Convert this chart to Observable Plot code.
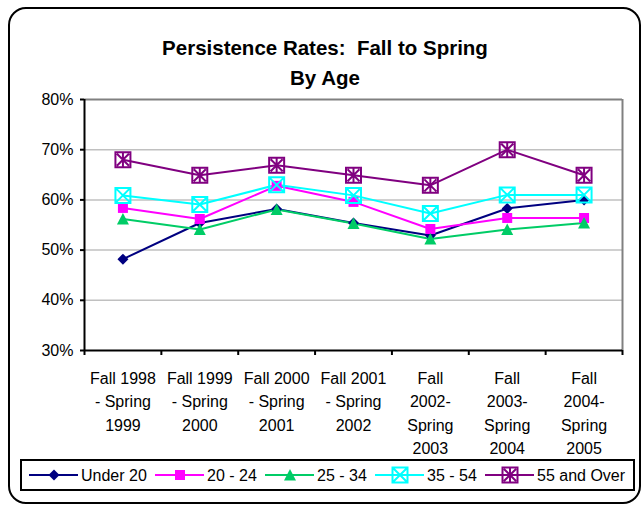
<!DOCTYPE html>
<html>
<head>
<meta charset="utf-8">
<script src="https://cdn.jsdelivr.net/npm/d3@7"></script>
<script src="https://cdn.jsdelivr.net/npm/@observablehq/plot@0.6"></script>
<style>
  html, body { margin: 0; padding: 0; background: #fff; }
  body { font-family: "Liberation Sans", Arial, sans-serif; }
  #wrap { position: relative; width: 644px; height: 507px; overflow: hidden; }
  #frame { position: absolute; left: 8px; top: 7px; width: 633px; height: 497px; border: 2px solid #000; border-radius: 18px; box-sizing: border-box; }
  #title { position: absolute; left: 3px; top: 33px; width: 644px; text-align: center; font-weight: bold; font-size: 20.5px; line-height: 30px; color: #000; }
  #chart { position: absolute; left: 0; top: 0; }
  #legend { position: absolute; left: 20px; top: 459px; width: 615px; height: 32px; border: 2px solid #000; box-sizing: border-box; background: #fff; }
</style>
</head>
<body>
<div id="wrap">
  <div id="frame"></div>
  <div id="chart"></div>
  <div id="title">Persistence Rates:&nbsp; Fall to Spring<br>By Age</div>
  <div id="legend"></div>
</div>
<script>
// ---- data ----
const categories = [
  "Fall 1998\n- Spring\n1999",
  "Fall 1999\n- Spring\n2000",
  "Fall 2000\n- Spring\n2001",
  "Fall 2001\n- Spring\n2002",
  "Fall\n2002-\nSpring\n2003",
  "Fall\n2003-\nSpring\n2004",
  "Fall\n2004-\nSpring\n2005"
];
const under20   = [48.2, 55.4, 58.2, 55.4, 52.9, 58.3, 60.0];
const age20_24  = [58.4, 56.2, 62.8, 59.6, 54.2, 56.4, 56.4];
const age25_34  = [56.2, 54.1, 58.1, 55.3, 52.2, 54.1, 55.4];
const age35_54  = [60.9, 59.1, 63.0, 60.9, 57.3, 61.0, 61.0];
const age55over = [68.0, 64.9, 66.9, 64.9, 62.9, 70.0, 64.9];
const seriesNames = ["Under 20", "20 - 24", "25 - 34", "35 - 54", "55 and Over"];
const yTicks = [30, 40, 50, 60, 70, 80];

// ---- marker shapes ----
const symDiamond = {draw(c){ const h = 5.5; c.moveTo(0,-h); c.lineTo(h,0); c.lineTo(0,h); c.lineTo(-h,0); c.closePath(); }};
const symSquare  = {draw(c){ const h = 5; c.rect(-h,-h,2*h,2*h); }};
const symTri     = {draw(c){ c.moveTo(0,-6); c.lineTo(6,5.5); c.lineTo(-6,5.5); c.closePath(); }};
const symBoxX    = {draw(c){ const h = 7.5; c.rect(-h,-h,2*h,2*h); c.moveTo(-h,-h); c.lineTo(h,h); c.moveTo(h,-h); c.lineTo(-h,h); }};
const symBoxStar = {draw(c){ const h = 7.5; c.rect(-h,-h,2*h,2*h); c.moveTo(-h+1.5,-h+1.5); c.lineTo(h-1.5,h-1.5); c.moveTo(h-1.5,-h+1.5); c.lineTo(-h+1.5,h-1.5); c.moveTo(0,-h); c.lineTo(0,h); }};

const series = [
  {name: seriesNames[0], values: under20,   color: "#000080", sym: symDiamond, filled: true},
  {name: seriesNames[1], values: age20_24,  color: "#FF00FF", sym: symSquare,  filled: true},
  {name: seriesNames[2], values: age25_34,  color: "#00CC66", sym: symTri,     filled: true},
  {name: seriesNames[3], values: age35_54,  color: "#00FFFF", sym: symBoxX,    filled: false},
  {name: seriesNames[4], values: age55over, color: "#800080", sym: symBoxStar, filled: false}
];

const xi = (d, i) => i + 0.5;

const marks = [
  Plot.gridY([40, 50, 60, 70], {stroke: "#c0c0c0", strokeOpacity: 1, strokeWidth: 1.5}),
  Plot.ruleY([80], {stroke: "#808080", strokeWidth: 2}),
  Plot.ruleX([7], {stroke: "#808080", strokeWidth: 2}),
  Plot.ruleX([0], {stroke: "#000", strokeWidth: 2}),
  Plot.ruleY([30], {stroke: "#000", strokeWidth: 2}),
  Plot.axisY({ticks: yTicks, tickSize: 4, tickPadding: 7, tickFormat: d => d + "%", fontSize: 16, stroke: "#000", strokeWidth: 2, fill: "#000"}),
  Plot.axisX({ticks: d3.range(0, 8), tickSize: 5, tickFormat: () => "", stroke: "#000", strokeWidth: 2}),
  Plot.text(categories, {x: xi, y: () => 30, text: d => d, lineAnchor: "top", dy: 17, lineHeight: 1.46, fontSize: 16, fill: "#000"})
];
for (const s of series) {
  marks.push(Plot.line(s.values, {x: xi, y: d => d, stroke: s.color, strokeWidth: 2}));
}
for (const s of series) {
  marks.push(Plot.dot(s.values, {
    x: xi, y: d => d, symbol: s.sym, r: 6,
    fill: s.filled ? s.color : "none",
    stroke: s.filled ? "none" : s.color,
    strokeWidth: 2
  }));
}

const chart = Plot.plot({
  width: 644,
  height: 460,
  marginTop: 99,
  marginLeft: 84,
  marginRight: 22,
  marginBottom: 110,
  x: {domain: [0, 7], axis: null},
  y: {domain: [30, 80], axis: null},
  style: {fontFamily: "'Liberation Sans', Arial, sans-serif", fontSize: "16px", background: "transparent", color: "#000", overflow: "visible"},
  marks
});
document.getElementById("chart").appendChild(chart);

// ---- legend ----
const legendX = [7, 133, 243, 353, 463]; // line start of each entry inside legend box
const legendShapes = {
  "Under 20": '<path d="M0,-5.5L5.5,0L0,5.5L-5.5,0Z" fill="#000080"/>',
  "20 - 24": '<rect x="-5" y="-5" width="10" height="10" fill="#FF00FF"/>',
  "25 - 34": '<path d="M0,-6L6,5.5L-6,5.5Z" fill="#00CC66"/>',
  "35 - 54": '<path d="M-7.5,-7.5H7.5V7.5H-7.5Z M-7.5,-7.5L7.5,7.5 M7.5,-7.5L-7.5,7.5" fill="none" stroke="#00FFFF" stroke-width="2"/>',
  "55 and Over": '<path d="M-7.5,-7.5H7.5V7.5H-7.5Z M-6,-6L6,6 M6,-6L-6,6 M0,-7.5V7.5" fill="none" stroke="#800080" stroke-width="2"/>'
};
let svg = '<svg width="611" height="28" xmlns="http://www.w3.org/2000/svg" style="position:absolute;left:0;top:0;font-family:\'Liberation Sans\',Arial,sans-serif;font-size:16px">';
series.forEach((s, k) => {
  const x0 = legendX[k];
  svg += `<line x1="${x0}" x2="${x0 + 49}" y1="14" y2="14" stroke="${s.color}" stroke-width="2"/>`;
  svg += `<g transform="translate(${x0 + 25},14)">${legendShapes[s.name]}</g>`;
  svg += `<text x="${x0 + 52}" y="19.5" fill="#000">${s.name}</text>`;
});
svg += '</svg>';
document.getElementById("legend").innerHTML = svg;
</script>
</body>
</html>
